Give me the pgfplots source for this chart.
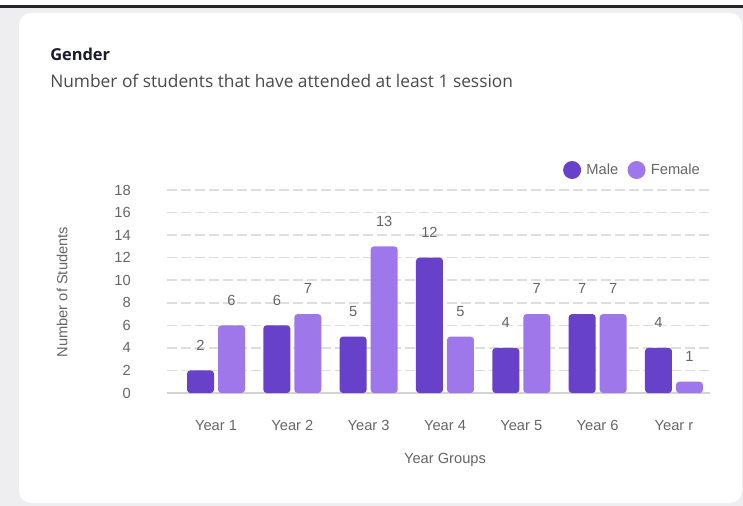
\documentclass[border=0pt]{standalone}
\usepackage{pgfplots}
\pgfplotsset{compat=1.18}
\usepackage{fontspec}
\setmainfont{Liberation Sans}
\newfontfamily\titlefont{Open Sans}

\definecolor{male}{HTML}{6741C9}
\definecolor{female}{HTML}{9E78EA}
\definecolor{pagebg}{HTML}{EEEEF0}
\definecolor{gridc}{HTML}{DEDEDE}
\definecolor{basec}{HTML}{D3D3D3}
\definecolor{labelc}{HTML}{666666}
\definecolor{titlec}{HTML}{1B1B2B}
\definecolor{subc}{HTML}{4A4A4A}

\begin{document}
\begin{tikzpicture}
% page and card, in pixels from the top left corner
\begin{scope}[x=0.75pt,y=-0.75pt]
  \path[use as bounding box] (0,0) rectangle (743,506);
  \fill[white] (0,0) rectangle (743,506);
  \fill[pagebg] (0,8) rectangle (743,506);
  \fill[black!85] (0,5) rectangle (743,8);
  \fill[white, rounded corners=9pt] (19,13) rectangle (742,503);
  \node[anchor=base west, inner sep=0, text=titlec,
        font=\titlefont\bfseries\fontsize{12.3}{14}\selectfont] at (50,61) {Gender};
  \node[anchor=base west, inner sep=0, text=subc,
        font=\titlefont\fontsize{13}{15}\selectfont] at (50,88)
        {Number of students that have attended at least 1 session};
\end{scope}

\begin{axis}[
    at={(125.25pt,-294.75pt)}, anchor=south west,
    scale only axis, width=407.25pt, height=152.25pt,
    ybar=3pt, bar width=20.25pt,
    xmin=-0.642, xmax=6.472,
    ymin=0, ymax=18,
    xtick={0,1,2,3,4,5,6},
    xticklabels={Year 1,Year 2,Year 3,Year 4,Year 5,Year 6,Year r},
    ytick={0,2,4,6,8,10,12,14,16,18},
    extra y ticks={0}, extra y tick labels={},
    extra y tick style={grid style={solid, draw=basec, line width=0.9pt}},
    axis line style={draw=none},
    major tick length=0pt,
    ymajorgrids,
    grid style={draw=gridc, line width=1.1pt, dash pattern=on 7.5pt off 3pt},
    /pgf/number format/assume math mode=true,
    tick label style={text=labelc, font=\fontsize{11}{13}\selectfont},
    yticklabel style={anchor=east, inner sep=0pt, xshift=-27pt},
    xticklabel style={anchor=base, inner sep=0pt, yshift=-28pt},
    xlabel={Year Groups}, ylabel={Number of Students},
    label style={text=labelc, font=\fontsize{11}{13}\selectfont},
    xlabel style={at={(axis description cs:0.512,-0.33)}, anchor=center},
    ylabel style={at={(axis description cs:-0.193,0.497)}, anchor=center},
    nodes near coords,
    every node near coord/.append style={anchor=center, yshift=19pt,
        text=labelc, font=\fontsize{11}{13}\selectfont},
    legend columns=2,
    legend style={draw=none, fill=none, inner sep=0pt,
        at={(axis description cs:0.729,1.0985)}, anchor=west,
        font=\fontsize{11}{13}\selectfont, text=labelc,
        /tikz/every odd column/.append style={column sep=2pt},
        /tikz/every even column/.append style={column sep=5pt}},
    legend image code/.code={\fill (6.75pt,0pt) circle (6.75pt);},
]
\addplot[fill=male, draw=none, rounded corners=2.5pt] coordinates {
    (0,2) (1,6) (2,5) (3,12) (4,4) (5,7) (6,4)
};
\addlegendentry{Male}
\addplot[fill=female, draw=none, rounded corners=2.5pt] coordinates {
    (0,6) (1,7) (2,13) (3,5) (4,7) (5,7) (6,1)
};
\addlegendentry{Female}
\end{axis}
\end{tikzpicture}
\end{document}
